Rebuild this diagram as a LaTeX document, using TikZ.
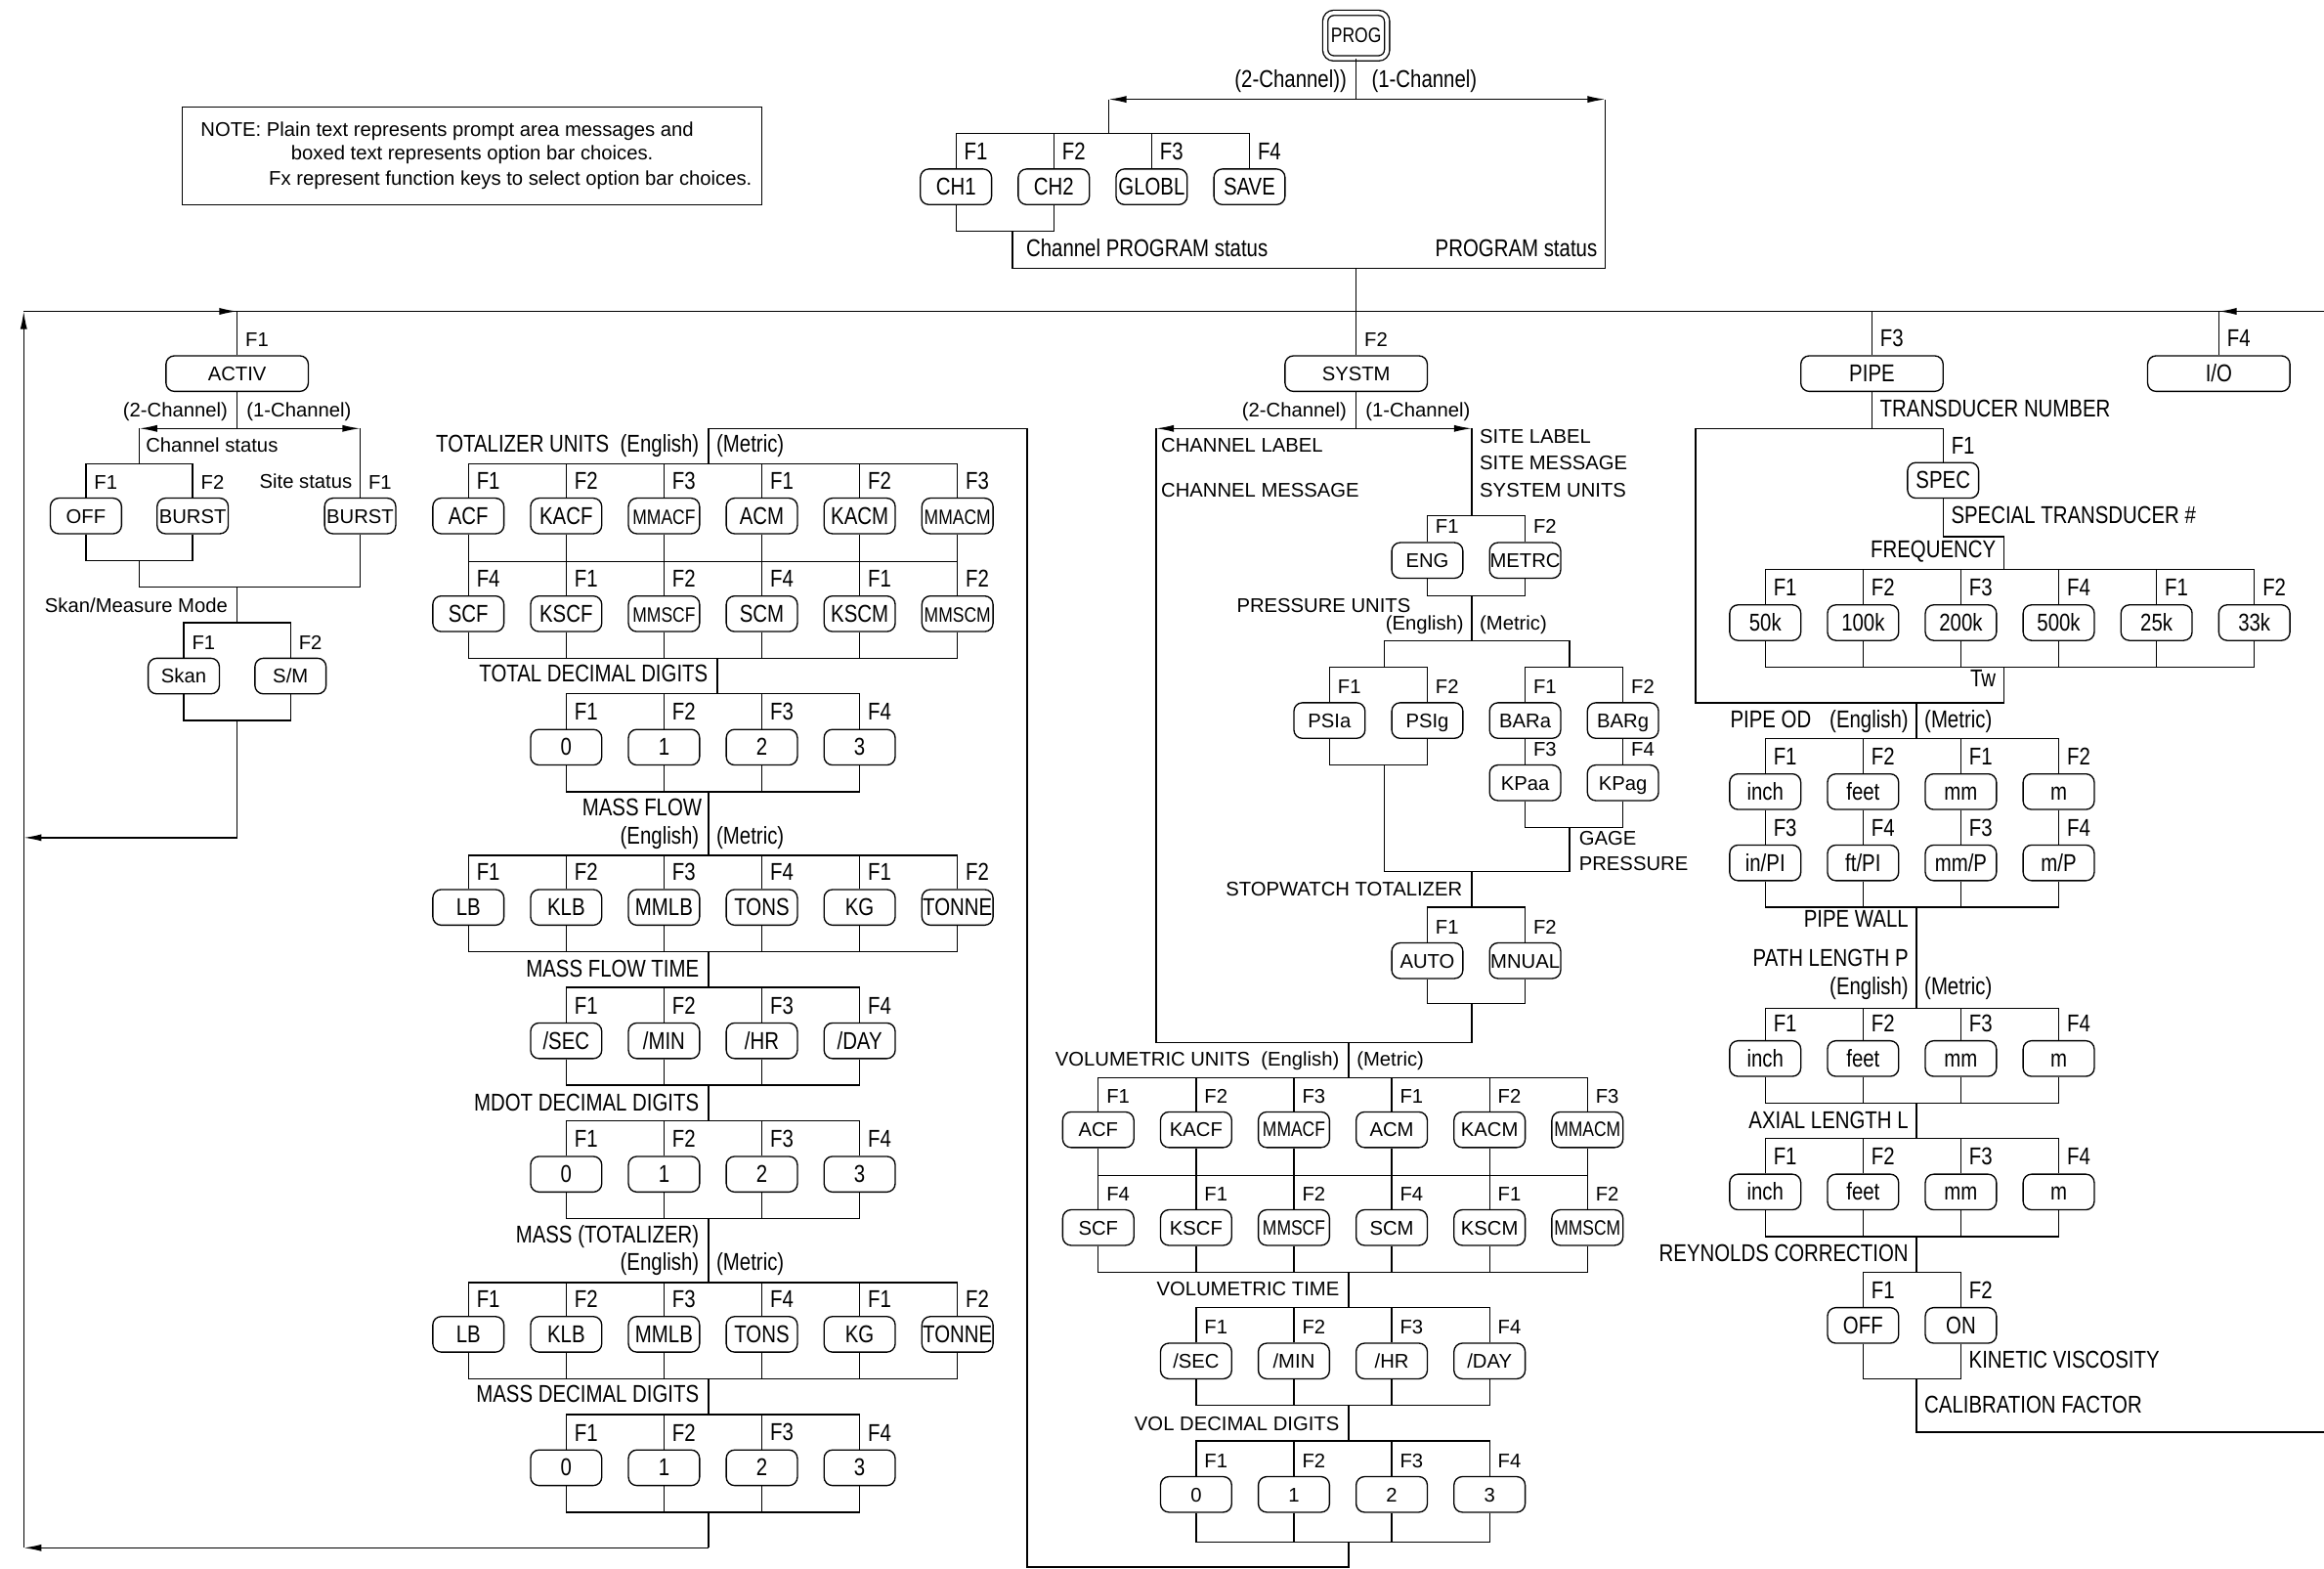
\documentclass[tikz,border=0pt]{standalone}
\usepackage{fontspec}
\setmainfont{Liberation Sans}
\newfontfamily\narrowfont[FakeStretch=0.82]{Liberation Sans}
\usetikzlibrary{calc,arrows.meta}

\newcommand\regtxt{\fontsize{11.4}{13}\selectfont}
\newcommand\nartxt{\narrowfont\fontsize{14}{16}\selectfont}
\newcommand\mmtxt{\narrowfont\fontsize{12}{14}\selectfont}
\newcommand\slh{/}

% row of option boxes: prefix, box style, key style, x0, dx, y, list label/key
\newcommand\optrow[7]{%
  \foreach [count=\i] \lbl/\fkey in {#7} {
    \node[#2] (#1\i) at ({#4+#5*(\i-1)},#6) {\lbl};
    \node[#3] (#1f\i) at ($(#1\i.north)+(4,-4)$) {\fkey};
  }}
% comb above / below a row: prefix, first, last, coordinate of the comb
\newcommand\combtop[4]{%
  \draw (#1#2.north) -- (#1#2.north |- #4) -| (#1#3.north);
  \foreach \j in {#2,...,#3} {\draw (#1\j.north) -- (#1\j.north |- #4);}}
\newcommand\combbot[4]{%
  \draw (#1#2.south) -- (#1#2.south |- #4) -| (#1#3.south);
  \foreach \j in {#2,...,#3} {\draw (#1\j.south) -- (#1\j.south |- #4);}}

\tikzset{
  opt/.style={draw, rounded corners=0.17cm, minimum width=1.44cm, minimum height=0.72cm,
    inner sep=0pt, text height=9.6pt, text depth=0pt, font=\nartxt},
  optr/.style={opt, text height=8.2pt, font=\regtxt},
  optw/.style={opt, minimum width=2.88cm},
  optwr/.style={optr, minimum width=2.88cm},
  fk/.style={inner sep=1pt, anchor=south west, font=\nartxt},
  fkr/.style={fk, font=\regtxt},
  msg/.style={inner sep=0pt, font=\nartxt},
  msgr/.style={msg, font=\regtxt},
  flowarrow/.style={-{Latex[length=0.36cm,width=0.14cm]}},
  progbox/.style={draw, double, double distance=2.2pt, rounded corners=0.17cm,
    minimum width=1.25cm, minimum height=0.92cm, inner sep=0pt, font=\mmtxt},
}

\begin{document}
\begin{tikzpicture}[x=0.03cm, y=-0.03cm, line width=0.75pt]
\useasboundingbox (0,0) rectangle (1568,1058);

	% ---- program key

	\node[progbox] (prog) at (915,24) {PROG};
	\coordinate (pj) at (915,67);
	\coordinate (pL) at (748,67);
	\coordinate (pR) at (1083,67);
	\draw (prog) -- (pj);
	\draw[flowarrow] (pj) -- (pL);
	\draw[flowarrow] (pj) -- (pR);
	\node[msg, anchor=mid east] (twoch) at (909,56) {(2-Channel))};
	\node[msg, anchor=mid west] (onech) at (925,56) {(1-Channel)};

	\coordinate (chT) at (748,90);
	\draw (pL) -- (chT);
	\optrow{ch}{opt}{fk}{645}{66}{126}{CH1/F1,CH2/F2,GLOBL/F3,SAVE/F4}
	\combtop{ch}{1}{4}{chT}
	\coordinate (chB) at (683,156);
	\combbot{ch}{1}{2}{chB}

	\coordinate (pB) at (683,181);
	\coordinate (pBR) at (1083,181);
	\coordinate (pM) at (915,181);
	\draw (chB) -- (pB) -- (pBR) -- (pR);
	\node[msg, anchor=mid west] (chstat) at (692,170) {Channel PROGRAM status};
	\node[msg, anchor=mid east] (pstat) at (1078,170) {PROGRAM status};

	% ---- note

	\node[draw, minimum width=11.73cm, minimum height=1.98cm, inner sep=0pt] (note) at (318.5,105) {};
	\node[msgr, anchor=mid west] (note1) at (135,89) {NOTE: Plain text represents prompt area messages and};
	\node[msgr, anchor=mid west] (note2) at (196,105) {boxed text represents option bar choices.};
	\node[msgr, anchor=mid west] (note3) at (181,122) {Fx represent function keys to select option bar choices.};

	% ---- main bus

	\coordinate (bL) at (16,210);
	\coordinate (bR) at (1568,210);
	\coordinate (b1) at (160,210);
	\coordinate (b2) at (915,210);
	\coordinate (b3) at (1263,210);
	\coordinate (b4) at (1497,210);
	\coordinate (lB) at (16,1044);
	\draw (pM) -- (b2);
	\draw (bL) -- (bR);
	\draw[flowarrow] (bL) -- (b1);
	\draw[flowarrow] (bR) -- (b4);
	\draw[flowarrow] (lB) -- (bL);

	\node[optwr] (activ) at (160,252) {ACTIV};
	\node[optwr] (systm) at (915,252) {SYSTM};
	\node[optw] (pipe) at (1263,252) {PIPE};
	\node[optw] (io) at (1497,252) {I/O};
	\draw (b1) -- (activ);
	\draw (b2) -- (systm);
	\draw (b3) -- (pipe);
	\draw (b4) -- (io);
	\node[fkr] (activf) at ($(activ.north)+(4,-4)$) {F1};
	\node[fkr] (systmf) at ($(systm.north)+(4,-4)$) {F2};
	\node[fk] (pipef) at ($(pipe.north)+(4,-4)$) {F3};
	\node[fk] (iof) at ($(io.north)+(4,-4)$) {F4};

	% ---- ACTIV

	\coordinate (acJ) at (160,289);
	\coordinate (acL) at (94,289);
	\coordinate (acR) at (243,289);
	\draw (activ) -- (acJ);
	\draw[flowarrow] (acJ) -- (acL);
	\draw[flowarrow] (acJ) -- (acR);
	\node[msgr, anchor=mid east] (actwo) at (154,278) {(2-Channel)};
	\node[msgr, anchor=mid west] (acone) at (166,278) {(1-Channel)};

	\coordinate (acT) at (94,313);
	\draw (acL) -- (acT);
	\node[msgr, anchor=mid west] (csmsg) at (98,302) {Channel status};
	\optrow{cs}{optr}{fkr}{58}{72}{348}{OFF/F1,BURST/F2}
	\combtop{cs}{1}{2}{acT}
	\node[optr] (ss) at (243,348) {BURST};
	\node[fkr] (ssf) at ($(ss.north)+(4,-4)$) {F1};
	\node[msgr, anchor=mid east] (ssmsg) at (238,326) {Site status};
	\draw (acR) -- (ss);
	\coordinate (csB) at (94,378);
	\combbot{cs}{1}{2}{csB}
	\coordinate (acB) at (94,396);
	\coordinate (acBR) at (243,396);
	\coordinate (acM) at (160,396);
	\draw (csB) -- (acB) -- (acBR) -- (ss);

	\coordinate (smT) at (160,420);
	\draw (acM) -- (smT);
	\node[msgr, anchor=mid east] (smmsg) at (154,410) {Skan/Measure Mode};
	\optrow{sm}{optr}{fkr}{124}{72}{456}{Skan/F1,S\slh M/F2}
	\combtop{sm}{1}{2}{smT}
	\coordinate (smB) at (160,486);
	\combbot{sm}{1}{2}{smB}
	\coordinate (acE) at (160,565);
	\coordinate (acEL) at (16,565);
	\draw (smB) -- (acE);
	\draw[flowarrow] (acE) -- (acEL);

	% ---- totalizer

	\coordinate (tuS) at (478,289);
	\coordinate (tuT) at (478,313);
	\coordinate (lpA) at (693,289);
	\coordinate (lpB) at (693,1057);
	\coordinate (vdE) at (910,1057);
	\coordinate (vdJ) at (910,1040);
	\draw (tuS) -- (tuT);
	\draw (vdJ) -- (vdE) -- (lpB) -- (lpA) -- (tuS);
	\node[msg, anchor=mid east] (tumsg) at (472,302) {TOTALIZER UNITS\ \ (English)};
	\node[msg, anchor=mid west] (tumet) at (483,302) {(Metric)};
	\optrow{tua}{opt}{fk}{316}{66}{348}{ACF/F1,KACF/F2,{\mmtxt MMACF}/F3,ACM/F1,KACM/F2,{\mmtxt MMACM}/F3}
	\combtop{tua}{1}{6}{tuT}
	\coordinate (tuM) at (478,379);
	\combbot{tua}{1}{6}{tuM}
	\optrow{tub}{opt}{fk}{316}{66}{414}{SCF/F4,KSCF/F1,{\mmtxt MMSCF}/F2,SCM/F4,KSCM/F1,{\mmtxt MMSCM}/F2}
	\combtop{tub}{1}{6}{tuM}
	\coordinate (tuB) at (484,444);
	\combbot{tub}{1}{6}{tuB}

	\coordinate (tdT) at (484,468);
	\draw (tuB) -- (tdT);
	\node[msg, anchor=mid east] (tdmsg) at (478,457) {TOTAL DECIMAL DIGITS};
	\optrow{td}{opt}{fk}{382}{66}{504}{0/F1,1/F2,2/F3,3/F4}
	\combtop{td}{1}{4}{tdT}
	\coordinate (tdB) at (478,534);
	\combbot{td}{1}{4}{tdB}

	\coordinate (mfT) at (478,577);
	\draw (tdB) -- (mfT);
	\node[msg, anchor=mid east] (mfmsg) at (474,547) {MASS FLOW};
	\node[msg, anchor=mid east] (mfeng) at (472,566) {(English)};
	\node[msg, anchor=mid west] (mfmet) at (483,566) {(Metric)};
	\optrow{mf}{opt}{fk}{316}{66}{612}{LB/F1,KLB/F2,MMLB/F3,TONS/F4,KG/F1,TONNE/F2}
	\combtop{mf}{1}{6}{mfT}
	\coordinate (mfB) at (478,642);
	\combbot{mf}{1}{6}{mfB}

	\coordinate (mtT) at (478,666);
	\draw (mfB) -- (mtT);
	\node[msg, anchor=mid east] (mtmsg) at (472,656) {MASS FLOW TIME};
	\optrow{mt}{opt}{fk}{382}{66}{702}{\slh SEC/F1,\slh MIN/F2,\slh HR/F3,\slh DAY/F4}
	\combtop{mt}{1}{4}{mtT}
	\coordinate (mtB) at (478,732);
	\combbot{mt}{1}{4}{mtB}

	\coordinate (mdT) at (478,756);
	\draw (mtB) -- (mdT);
	\node[msg, anchor=mid east] (mdmsg) at (472,746) {MDOT DECIMAL DIGITS};
	\optrow{md}{opt}{fk}{382}{66}{792}{0/F1,1/F2,2/F3,3/F4}
	\combtop{md}{1}{4}{mdT}
	\coordinate (mdB) at (478,822);
	\combbot{md}{1}{4}{mdB}

	\coordinate (msT) at (478,865);
	\draw (mdB) -- (msT);
	\node[msg, anchor=mid east] (msmsg) at (472,835) {MASS (TOTALIZER)};
	\node[msg, anchor=mid east] (mseng) at (472,854) {(English)};
	\node[msg, anchor=mid west] (msmet) at (483,854) {(Metric)};
	\optrow{ms}{opt}{fk}{316}{66}{900}{LB/F1,KLB/F2,MMLB/F3,TONS/F4,KG/F1,TONNE/F2}
	\combtop{ms}{1}{6}{msT}
	\coordinate (msB) at (478,930);
	\combbot{ms}{1}{6}{msB}

	\coordinate (mxT) at (478,954);
	\draw (msB) -- (mxT);
	\node[msg, anchor=mid east] (mxmsg) at (472,943) {MASS DECIMAL DIGITS};
	\optrow{mx}{opt}{fk}{382}{66}{990}{0/F1,1/F2,2/F3,3/F4}
	\combtop{mx}{1}{4}{mxT}
	\coordinate (mxB) at (478,1020);
	\combbot{mx}{1}{4}{mxB}
	\coordinate (mxE) at (478,1044);
	\draw (mxB) -- (mxE);
	\draw[flowarrow] (mxE) -- (lB);

	% ---- SYSTM

	\coordinate (syJ) at (915,289);
	\coordinate (syL) at (780,289);
	\coordinate (syR) at (993,289);
	\draw (systm) -- (syJ);
	\draw[flowarrow] (syJ) -- (syL);
	\draw[flowarrow] (syJ) -- (syR);
	\node[msgr, anchor=mid east] (sytwo) at (909,278) {(2-Channel)};
	\node[msgr, anchor=mid west] (syone) at (921,278) {(1-Channel)};
	\node[msgr, anchor=mid west] (chlab) at (783,302) {CHANNEL LABEL};
	\node[msgr, anchor=mid west] (chmes) at (783,332) {CHANNEL MESSAGE};
	\node[msgr, anchor=mid west] (silab) at (998,296) {SITE LABEL};
	\node[msgr, anchor=mid west] (simes) at (998,314) {SITE MESSAGE};
	\node[msgr, anchor=mid west] (syuni) at (998,332) {SYSTEM UNITS};

	\coordinate (suT) at (993,348);
	\draw (syR) -- (suT);
	\optrow{su}{optr}{fkr}{963}{66}{378}{ENG/F1,METRC/F2}
	\combtop{su}{1}{2}{suT}
	\coordinate (suB) at (993,402);
	\combbot{su}{1}{2}{suB}

	\coordinate (puJ) at (993,432);
	\coordinate (puL) at (934,432);
	\coordinate (puR) at (1059,432);
	\draw (suB) -- (puJ);
	\draw (puL) -- (puR);
	\node[msgr, anchor=mid west] (pumsg) at (834,410) {PRESSURE UNITS};
	\node[msgr, anchor=mid east] (pueng) at (988,422) {(English)};
	\node[msgr, anchor=mid west] (pumet) at (998,422) {(Metric)};

	\coordinate (peT) at (934,450);
	\draw (puL) -- (peT);
	\optrow{pe}{optr}{fkr}{897}{66}{486}{PSIa/F1,PSIg/F2}
	\combtop{pe}{1}{2}{peT}
	\coordinate (peB) at (934,516);
	\combbot{pe}{1}{2}{peB}

	\coordinate (pmT) at (1059,450);
	\draw (puR) -- (pmT);
	\optrow{pm}{optr}{fkr}{1029}{66}{486}{BARa/F1,BARg/F2}
	\optrow{pn}{optr}{fkr}{1029}{66}{528}{KPaa/F3,KPag/F4}
	\combtop{pm}{1}{2}{pmT}
	\draw (pm1) -- (pn1);
	\draw (pm2) -- (pn2);
	\coordinate (pnB) at (1059,558);
	\combbot{pn}{1}{2}{pnB}
	\node[msgr, anchor=mid west] (gage1) at (1065,567) {GAGE};
	\node[msgr, anchor=mid west] (gage2) at (1065,584) {PRESSURE};

	\coordinate (pwL) at (934,588);
	\coordinate (pwB) at (1059,588);
	\coordinate (swJ) at (993,588);
	\draw (peB) -- (pwL) -- (pwB) -- (pnB);

	\coordinate (swT) at (993,612);
	\draw (swJ) -- (swT);
	\node[msgr, anchor=mid east] (swmsg) at (987,601) {STOPWATCH TOTALIZER};
	\optrow{sw}{optr}{fkr}{963}{66}{648}{AUTO/F1,MNUAL/F2}
	\combtop{sw}{1}{2}{swT}
	\coordinate (swB) at (993,677);
	\combbot{sw}{1}{2}{swB}

	\coordinate (syE) at (993,703);
	\coordinate (syEL) at (780,703);
	\coordinate (vuJ) at (910,703);
	\draw (syL) -- (syEL) -- (syE) -- (swB);

	\coordinate (vuT) at (910,727);
	\draw (vuJ) -- (vuT);
	\node[msgr, anchor=mid east] (vumsg) at (904,716) {VOLUMETRIC UNITS\ \ (English)};
	\node[msgr, anchor=mid west] (vumet) at (915,716) {(Metric)};
	\optrow{va}{optr}{fkr}{741}{66}{762}{ACF/F1,KACF/F2,{\mmtxt MMACF}/F3,ACM/F1,KACM/F2,{\mmtxt MMACM}/F3}
	\combtop{va}{1}{6}{vuT}
	\coordinate (vaM) at (910,793);
	\combbot{va}{1}{6}{vaM}
	\optrow{vb}{optr}{fkr}{741}{66}{828}{SCF/F4,KSCF/F1,{\mmtxt MMSCF}/F2,SCM/F4,KSCM/F1,{\mmtxt MMSCM}/F2}
	\combtop{vb}{1}{6}{vaM}
	\coordinate (vbB) at (910,858);
	\combbot{vb}{1}{6}{vbB}

	\coordinate (vtT) at (910,882);
	\draw (vbB) -- (vtT);
	\node[msgr, anchor=mid east] (vtmsg) at (904,871) {VOLUMETRIC TIME};
	\optrow{vt}{optr}{fkr}{807}{66}{918}{\slh SEC/F1,\slh MIN/F2,\slh HR/F3,\slh DAY/F4}
	\combtop{vt}{1}{4}{vtT}
	\coordinate (vtB) at (910,948);
	\combbot{vt}{1}{4}{vtB}

	\coordinate (vdT) at (910,972);
	\draw (vtB) -- (vdT);
	\node[msgr, anchor=mid east] (vdmsg) at (904,962) {VOL DECIMAL DIGITS};
	\optrow{vd}{optr}{fkr}{807}{66}{1008}{0/F1,1/F2,2/F3,3/F4}
	\combtop{vd}{1}{4}{vdT}
	\combbot{vd}{1}{4}{vdJ}

	% ---- PIPE

	\coordinate (piJ) at (1263,289);
	\coordinate (piL) at (1144,289);
	\coordinate (piR) at (1311,289);
	\draw (pipe) -- (piJ);
	\draw (piL) -- (piR);
	\node[msg, anchor=mid west] (trmsg) at (1268,278) {TRANSDUCER NUMBER};
	\node[opt] (spec) at (1311,324) {SPEC};
	\node[fk] (specf) at ($(spec.north)+(4,-4)$) {F1};
	\draw (piR) -- (spec);
	\coordinate (spA) at (1311,362);
	\coordinate (spB) at (1352,362);
	\coordinate (frT) at (1352,384);
	\draw (spec) -- (spA) -- (spB) -- (frT);
	\node[msg, anchor=mid west] (spmsg) at (1316,350) {SPECIAL TRANSDUCER \#};
	\node[msg, anchor=mid east] (frmsg) at (1347,373) {FREQUENCY};
	\optrow{fr}{opt}{fk}{1191}{66}{420}{50k/F1,100k/F2,200k/F3,500k/F4,25k/F1,33k/F2}
	\combtop{fr}{1}{6}{frT}
	\coordinate (frB) at (1352,450);
	\combbot{fr}{1}{6}{frB}

	\coordinate (twE) at (1352,474);
	\coordinate (twL) at (1144,474);
	\coordinate (odJ) at (1293,474);
	\draw (frB) -- (twE) -- (twL) -- (piL);
	\node[msg, anchor=mid east] (twmsg) at (1347,460) {Tw};

	\coordinate (odT) at (1293,498);
	\draw (odJ) -- (odT);
	\node[msg, anchor=mid west] (odmsg) at (1167,488) {PIPE OD};
	\node[msg, anchor=mid east] (odeng) at (1288,488) {(English)};
	\node[msg, anchor=mid west] (odmet) at (1298,488) {(Metric)};
	\optrow{oda}{opt}{fk}{1191}{66}{534}{inch/F1,feet/F2,mm/F1,m/F2}
	\optrow{odb}{opt}{fk}{1191}{66}{582}{in\slh PI/F3,ft\slh PI/F4,mm\slh P/F3,m\slh P/F4}
	\combtop{oda}{1}{4}{odT}
	\foreach \k in {1,...,4} {\draw (oda\k) -- (odb\k);}
	\coordinate (odB) at (1293,612);
	\combbot{odb}{1}{4}{odB}

	\coordinate (plT) at (1293,680);
	\draw (odB) -- (plT);
	\node[msg, anchor=mid east] (pwmsg) at (1288,622) {PIPE WALL};
	\node[msg, anchor=mid east] (plmsg) at (1288,649) {PATH LENGTH P};
	\node[msg, anchor=mid east] (pleng) at (1288,668) {(English)};
	\node[msg, anchor=mid west] (plmet) at (1298,668) {(Metric)};
	\optrow{pl}{opt}{fk}{1191}{66}{714}{inch/F1,feet/F2,mm/F3,m/F4}
	\combtop{pl}{1}{4}{plT}
	\coordinate (plB) at (1293,744);
	\combbot{pl}{1}{4}{plB}

	\coordinate (alT) at (1293,768);
	\draw (plB) -- (alT);
	\node[msg, anchor=mid east] (almsg) at (1288,758) {AXIAL LENGTH L};
	\optrow{al}{opt}{fk}{1191}{66}{804}{inch/F1,feet/F2,mm/F3,m/F4}
	\combtop{al}{1}{4}{alT}
	\coordinate (alB) at (1293,834);
	\combbot{al}{1}{4}{alB}

	\coordinate (rcT) at (1293,858);
	\draw (alB) -- (rcT);
	\node[msg, anchor=mid east] (rcmsg) at (1288,848) {REYNOLDS CORRECTION};
	\optrow{rc}{opt}{fk}{1257}{66}{894}{OFF/F1,ON/F2}
	\combtop{rc}{1}{2}{rcT}
	\coordinate (rcB) at (1293,930);
	\combbot{rc}{1}{2}{rcB}
	\node[msg, anchor=mid west] (kvmsg) at (1328,920) {KINETIC VISCOSITY};

	\coordinate (cfJ) at (1293,966);
	\coordinate (cfR) at (1568,966);
	\draw (rcB) -- (cfJ) -- (cfR);
	\node[msg, anchor=mid west] (cfmsg) at (1298,950) {CALIBRATION FACTOR};

\end{tikzpicture}
\end{document}
